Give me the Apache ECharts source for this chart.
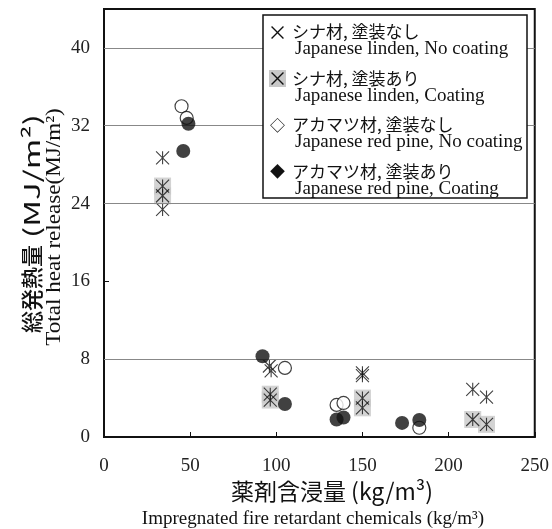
<!DOCTYPE html>
<html><head><meta charset="utf-8">
<script src="https://cdn.jsdelivr.net/npm/echarts@6/dist/echarts.min.js"></script>
<style>html,body{margin:0;padding:0;background:#fff}#c{width:552px;height:529px}</style>
</head><body><div id="c"></div>
<script>
// ---- data ----
const xTicks = [0, 50, 100, 150, 200, 250];
const yTicks = [0, 8, 16, 24, 32, 40];
const gridYValues = [8, 24, 32, 40];
const lindenNoCoat = [[34, 28.7], [34, 23.4], [96, 7.3], [97, 6.8], [150, 6.6], [150, 6.3], [214, 4.9], [222, 4.1]];
const lindenCoat = [[34, 25.8], [34, 24.8], [96.5, 4.4], [96.5, 3.8], [150, 4.0], [150, 3.0], [214, 1.8], [222, 1.3]];
const pineNoCoat = [[45, 34.0], [48, 32.8], [105, 7.1], [135, 3.3], [139, 3.5], [183, 0.95]];
const pineCoat = [[46, 29.4], [49, 32.2], [92, 8.3], [105, 3.4], [135, 1.8], [139, 2.0], [173, 1.45], [183, 1.75]];
const legendJa = ['シナ材, 塗装なし', 'シナ材, 塗装あり', 'アカマツ材, 塗装なし', 'アカマツ材, 塗装あり'];
const legendEn = ['Japanese linden, No coating', 'Japanese linden, Coating', 'Japanese red pine, No coating', 'Japanese red pine, Coating'];
const legendGlyph = ['×', '×', '◇', '◆'];
const yTitleJa = '総発熱量';
const yTitleUnit = '(MJ/m²)';
const yTitleEn = 'Total heat release(MJ/m²)';
const xTitleJa = '薬剤含浸量 (kg/m³)';
const xTitleEn = 'Impregnated fire retardant chemicals (kg/m³)';

// ---- chart ----
const JP = '"Noto Sans CJK JP", sans-serif';
const SERIF = '"Liberation Serif", "Times New Roman", serif';
const ASTER = 'path://M0 0L10 10M10 0L0 10M5 0L5 10';
const chart = echarts.init(document.getElementById('c'));

const graphics = [];
// legend box
const LX = 263, LY = 15, LW = 264, LH = 183;
graphics.push({type: 'rect', z: 10, shape: {x: LX, y: LY, width: LW, height: LH},
  style: {fill: '#fff', stroke: '#111', lineWidth: 1.5}});
legendJa.forEach((t, i) => {
  const yc = 32 + i * 46.5;
  if (i === 1) {
    graphics.push({type: 'rect', z: 11, shape: {x: 269, y: yc - 8.5, width: 17, height: 17}, style: {fill: '#c8c8c8'}});
  }
  graphics.push({type: 'text', z: 12, x: 277.5, y: yc,
    style: {text: legendGlyph[i], font: (i >= 2 ? '15px ' : '20px ') + JP, fill: '#111', align: 'center', verticalAlign: 'middle'}});
  graphics.push({type: 'text', z: 12, x: 292, y: yc,
    style: {text: t, font: '17px ' + JP, fill: '#111', align: 'left', verticalAlign: 'middle'}});
  graphics.push({type: 'text', z: 12, x: 295, y: yc + 17.5,
    style: {text: legendEn[i], font: '19px ' + SERIF, fill: '#111', align: 'left', verticalAlign: 'middle'}});
});
// axis titles
graphics.push({type: 'text', x: 32, y: 289, rotation: Math.PI / 2,
  style: {text: yTitleJa, font: '500 22px ' + JP, fill: '#111', align: 'center', verticalAlign: 'middle'}});
graphics.push({type: 'text', x: 32, y: 176, rotation: Math.PI / 2, scaleX: 1.5,
  style: {text: yTitleUnit, font: '22px ' + JP, fill: '#111', align: 'center', verticalAlign: 'middle'}});
graphics.push({type: 'text', x: 54, y: 227, rotation: Math.PI / 2, scaleX: 1.05,
  style: {text: yTitleEn, font: '22px ' + SERIF, fill: '#111', align: 'center', verticalAlign: 'middle'}});
graphics.push({type: 'text', x: 332, y: 491,
  style: {text: xTitleJa, font: '23px ' + JP, fill: '#111', align: 'center', verticalAlign: 'middle'}});
graphics.push({type: 'text', x: 313, y: 519,
  style: {text: xTitleEn, font: '19px ' + SERIF, fill: '#111', align: 'center', verticalAlign: 'middle'}});

const option = {
  animation: false,
  backgroundColor: '#fff',
  grid: {left: 104, right: 17, top: 9, bottom: 92, show: true, borderColor: '#111', borderWidth: 2, backgroundColor: 'transparent'},
  xAxis: {
    type: 'value', min: xTicks[0], max: xTicks[xTicks.length - 1], interval: 50,
    axisLine: {show: true, lineStyle: {color: '#111', width: 2}},
    axisTick: {show: true, inside: true, length: 5, lineStyle: {color: '#111', width: 1}},
    axisLabel: {fontFamily: SERIF, fontSize: 19, color: '#222', margin: 20},
    splitLine: {show: false}
  },
  yAxis: {
    type: 'value', min: yTicks[0], max: 44, interval: 8,
    axisLine: {show: true, lineStyle: {color: '#111', width: 2}},
    axisTick: {show: true, inside: true, length: 5, lineStyle: {color: '#111', width: 1}},
    axisLabel: {fontFamily: SERIF, fontSize: 19, color: '#222', margin: 14, showMaxLabel: false,
      formatter: v => (yTicks.indexOf(v) >= 0 ? String(v) : '')},
    splitLine: {show: false}
  },
  graphic: graphics,
  series: [
    {type: 'scatter', name: 'grid', data: [], silent: true, z: 1,
      markLine: {silent: true, symbol: ['none', 'none'], label: {show: false},
        lineStyle: {color: '#888', width: 1, type: 'solid'},
        data: gridYValues.map(v => ({yAxis: v}))}},
    {type: 'scatter', name: legendJa[1] + ' box', data: lindenCoat, symbol: 'rect', symbolSize: 17,
      itemStyle: {color: '#c8c8c8'}, z: 2},
    {type: 'scatter', name: legendJa[1], data: lindenCoat, symbol: ASTER, symbolSize: 13,
      itemStyle: {color: 'transparent', borderColor: '#111', borderWidth: 1.1}, z: 3},
    {type: 'scatter', name: legendJa[0], data: lindenNoCoat, symbol: ASTER, symbolSize: 13,
      itemStyle: {color: 'transparent', borderColor: '#111', borderWidth: 1.1}, z: 3},
    {type: 'scatter', name: legendJa[2], data: pineNoCoat, symbol: 'circle', symbolSize: 13,
      itemStyle: {color: '#fff', borderColor: '#111', borderWidth: 1.2}, z: 4},
    {type: 'scatter', name: legendJa[3], data: pineCoat, symbol: 'circle', symbolSize: 14,
      itemStyle: {color: '#111'}, z: 5}
  ]
};
chart.setOption(option);
</script>
</body></html>
